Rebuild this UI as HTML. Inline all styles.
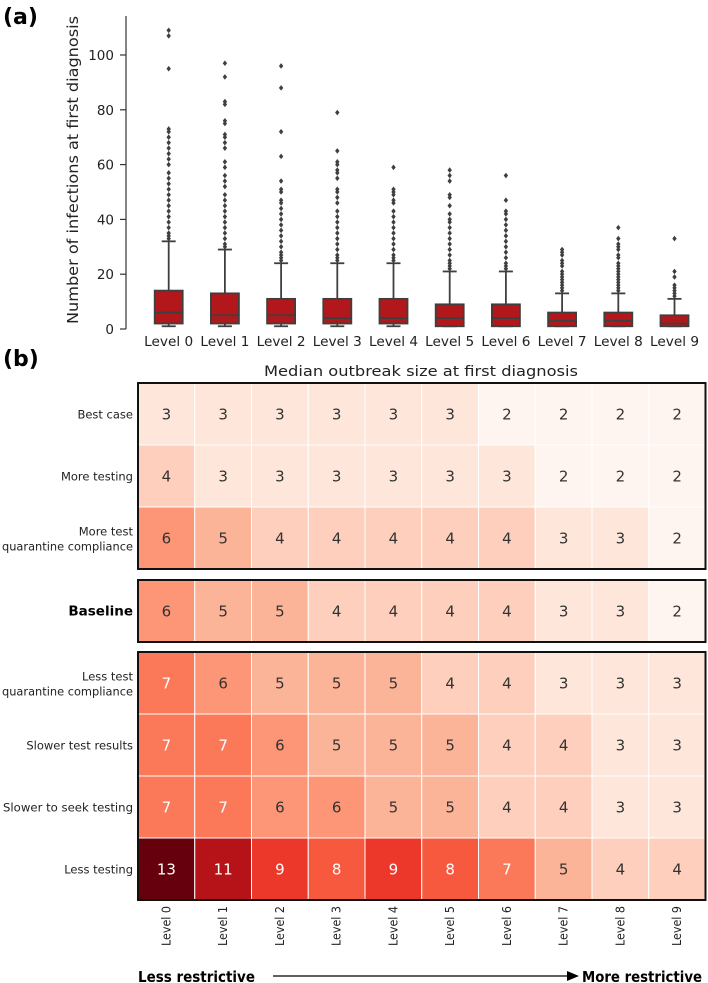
<!DOCTYPE html>
<html><head><meta charset="utf-8">
<style>
html,body{margin:0;padding:0;background:#fff;}
svg{display:block;font-family:"DejaVu Sans","Liberation Sans",sans-serif;}
</style></head>
<body>
<svg id="fig" width="708" height="983" viewBox="0 0 708 983" xmlns="http://www.w3.org/2000/svg">
  <text x="3" y="24" font-size="22" font-weight="bold" fill="#000">(a)</text>
  <text x="3" y="366" font-size="22" font-weight="bold" fill="#000">(b)</text>
  <text transform="translate(78,170) rotate(-90)" text-anchor="middle" font-size="15" textLength="308" lengthAdjust="spacingAndGlyphs" fill="#222">Number of infections at first diagnosis</text>
  <g id="boxplot"></g>
  <text x="421" y="376" text-anchor="middle" font-size="14" textLength="314" lengthAdjust="spacingAndGlyphs" fill="#222">Median outbreak size at first diagnosis</text>
  <g id="heatmap"></g>
  <text x="138" y="982" font-size="15" font-weight="bold" textLength="117" lengthAdjust="spacingAndGlyphs" fill="#000">Less restrictive</text>
  <line x1="273" y1="976" x2="568" y2="976" stroke="#000" stroke-width="1.3"/>
  <polygon points="567,971 579,976 567,981" fill="#000"/>
  <text x="582" y="982" font-size="15" font-weight="bold" textLength="120" lengthAdjust="spacingAndGlyphs" fill="#000">More restrictive</text>
</svg>
<script>
const levels = ["Level 0","Level 1","Level 2","Level 3","Level 4","Level 5","Level 6","Level 7","Level 8","Level 9"];
const q1 = [2,2,2,2,2,1,1,1,1,1];
const medians = [6,5,5,4,4,4,4,3,3,2];
const q3 = [14,13,11,11,11,9,9,6,6,5];
const whiskLo = [1,1,1,1,1,1,1,1,1,1];
const whiskHi = [32,29,24,24,24,21,21,13,13,11];
const outliers = [
 [109,107,95,73,72,70,68,66,64,62,60,57,55,53,51,49,47,45,43,41,39,37,35,34,33],
 [97,92,83,82,76,75,71,70,68,66,61,59,56,54,52,49,47,45,43,41,39,37,35,33,31,30],
 [96,88,72,63,54,51,50,47,46,44,42,40,38,36,34,32,30,28,27,26,25],
 [79,65,61,60,58,57,55,51,50,48,46,43,41,39,37,35,33,31,29,27,26,25],
 [59,51,50,49,47,46,43,41,39,37,35,33,31,29,27,26,25],
 [58,56,54,49,48,45,42,40,39,37,35,33,31,29,27,25,24,23,22],
 [56,47,43,42,40,38,36,34,32,30,28,26,24,23,22],
 [29,28,27,25,24,23,21,20,19,18,17,16,15,14],
 [37,33,31,30,29,27,26,24,23,22,21,20,19,18,17,16,15,14],
 [33,21,19,16,15,14,13,12]
];
const yTicks = [0,20,40,60,80,100];

const rowLabels = [["Best case"],["More testing"],["More test","quarantine compliance"],["Baseline"],["Less test","quarantine compliance"],["Slower test results"],["Slower to seek testing"],["Less testing"]];
const heatValues = [
 [3,3,3,3,3,3,2,2,2,2],
 [4,3,3,3,3,3,3,2,2,2],
 [6,5,4,4,4,4,4,3,3,2],
 [6,5,5,4,4,4,4,3,3,2],
 [7,6,5,5,5,4,4,3,3,3],
 [7,7,6,5,5,5,4,4,3,3],
 [7,7,6,6,5,5,4,4,3,3],
 [13,11,9,8,9,8,7,5,4,4]
];

const NS = "http://www.w3.org/2000/svg";
function mk(tag, attrs, parent){const e=document.createElementNS(NS,tag);for(const k in attrs)e.setAttribute(k,attrs[k]);parent.appendChild(e);return e;}

// ---- boxplot ----
const bp = document.getElementById('boxplot');
const yScale = v => 329 - v*2.74;
const xScale = i => 168.7 + i*56.2;
const boxW = 28;
const axl=mk('line',{x1:126,y1:16,x2:126,y2:329,stroke:'#333','stroke-width':1.2},bp);


yTicks.forEach(t=>{
  const l=mk('line',{x1:120,y1:yScale(t),x2:126,y2:yScale(t),stroke:'#333','stroke-width':1.2},bp);
  
  
  const tx=mk('text',{x:114,y:yScale(t)+5,'text-anchor':'end','font-size':13.5,fill:'#222'},bp);
  tx.textContent=t;
  
  
});
levels.forEach((lv,i)=>{
  const cx=xScale(i);
  const g=mk('g',{},bp);
  
  
  const st={stroke:'#3f3f3f','stroke-width':1.8};
  mk('line',Object.assign({x1:cx,y1:yScale(q3[i]),x2:cx,y2:yScale(whiskHi[i])},st),g);
  mk('line',Object.assign({x1:cx-7,y1:yScale(whiskHi[i]),x2:cx+7,y2:yScale(whiskHi[i])},st),g);
  mk('line',Object.assign({x1:cx,y1:yScale(q1[i]),x2:cx,y2:yScale(whiskLo[i])},st),g);
  mk('line',Object.assign({x1:cx-7,y1:yScale(whiskLo[i]),x2:cx+7,y2:yScale(whiskLo[i])},st),g);
  mk('rect',Object.assign({x:cx-boxW/2,y:yScale(q3[i]),width:boxW,height:yScale(q1[i])-yScale(q3[i]),fill:'#b2181b'},st),g);
  mk('line',Object.assign({x1:cx-boxW/2,y1:yScale(medians[i]),x2:cx+boxW/2,y2:yScale(medians[i])},st),g);
  outliers[i].forEach(v=>{
    const d=mk('path',{d:`M${cx} ${yScale(v)-2.8}L${cx+2.2} ${yScale(v)}L${cx} ${yScale(v)+2.8}L${cx-2.2} ${yScale(v)}Z`,fill:'#3f3f3f'},g);
    
    
  });
  const t=mk('text',{x:cx,y:346,'text-anchor':'middle','font-size':13,textLength:49,lengthAdjust:'spacingAndGlyphs',fill:'#222'},bp);
  t.textContent=lv;
  
  
});

// ---- heatmap ----
const hm=document.getElementById('heatmap');
const reds=["#fff5f0","#fee0d2","#fcbba1","#fc9272","#fb6a4a","#ef3b2c","#cb181d","#a50f15","#67000d"];
const vmin=2, vmax=13;
function hex(c){return [1,3,5].map(k=>parseInt(c.substr(k,2),16));}
function color(v){
  let t=(v-vmin)/(vmax-vmin); t=Math.max(0,Math.min(1,t));
  const p=t*(reds.length-1); const k=Math.min(Math.floor(p),reds.length-2); const f=p-k;
  const a=hex(reds[k]), b=hex(reds[k+1]);
  return 'rgb('+a.map((x,j)=>Math.round(x+(b[j]-x)*f)).join(',')+')';
}
const colX = j => 138 + j*56.75;
const cellW = 56.75, cellH = 62;
const rowY = [383,445,507,580,652,714,776,838];
const groups=[[383,569],[580,642],[652,900]];
heatValues.forEach((row,r)=>{
  row.forEach((v,c)=>{
    const rc=mk('rect',{x:colX(c),y:rowY[r],width:cellW,height:cellH,fill:color(v),stroke:'#fff','stroke-width':1},hm);
    
    
    const t=mk('text',{x:colX(c)+cellW/2,y:rowY[r]+cellH/2+5.5,'text-anchor':'middle','font-size':15,fill:v>=7?'#fff':'#333'},hm);
    t.textContent=v;
    
    
  });
  const lines=rowLabels[r];
  const bold = lines[0]==="Baseline";
  lines.forEach((ln,k)=>{
    const yy = rowY[r]+cellH/2+4.5 + (lines.length===2 ? (k===0?-7:8):0);
    const attrs={x:133,y:yy,'text-anchor':'end','font-size':bold?13.5:11.5,'font-weight':bold?'bold':'normal',fill:bold?'#000':'#222'};
    if(ln==="quarantine compliance"){attrs.textLength=131;attrs.lengthAdjust='spacingAndGlyphs';}
    if(ln==="Slower to seek testing"){attrs.textLength=130;attrs.lengthAdjust='spacingAndGlyphs';}
    const t=mk('text',attrs,hm);
    t.textContent=ln;
    
    
  });
});
groups.forEach(g=>{
  const b=mk('rect',{x:138,y:g[0],width:567.5,height:g[1]-g[0],fill:'none',stroke:'#111','stroke-width':2},hm);
  
  
});
levels.forEach((lv,c)=>{
  const x=colX(c)+cellW/2+4;
  const t=mk('text',{transform:`translate(${x},906) rotate(-90)`,'text-anchor':'end','font-size':12,textLength:40,lengthAdjust:'spacingAndGlyphs',fill:'#222'},hm);
  t.textContent=lv;
  
  
});
</script>
</body></html>
